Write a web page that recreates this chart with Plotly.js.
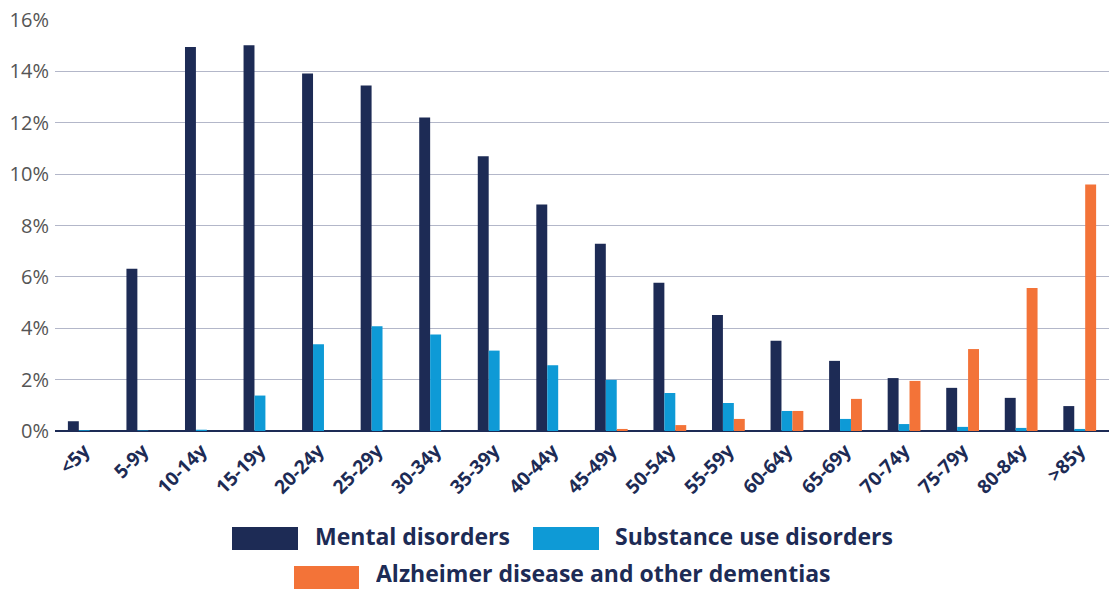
<!DOCTYPE html>
<html>
<head>
<meta charset="utf-8">
<script src="https://cdn.plot.ly/plotly-3.0.1.min.js"></script>
<style>html,body{margin:0;padding:0;background:#fff;}#chart{width:1109px;height:590px;}</style>
</head>
<body>
<div id="chart"></div>
<script>
const categories = ['<5y','5-9y','10-14y','15-19y','20-24y','25-29y','30-34y','35-39y','40-44y','45-49y','50-54y','55-59y','60-64y','65-69y','70-74y','75-79y','80-84y','>85y'];
const mental = [0.38,6.32,14.95,15.02,13.92,13.45,12.2,10.7,8.82,7.29,5.77,4.52,3.51,2.73,2.06,1.68,1.29,0.97];
const substance = [0.03,0.02,0.05,1.38,3.38,4.08,3.76,3.13,2.56,1.99,1.48,1.09,0.78,0.47,0.27,0.16,0.12,0.08];
const alzheimer = [0,0,0,0,0,0,0,0,0,0.08,0.23,0.47,0.78,1.25,1.95,3.19,5.57,9.6];
const seriesNames = ['Mental disorders','Substance use disorders','Alzheimer disease and other dementias'];
const seriesColors = ['#1d2b55','#0e9ad6','#f37338'];

const W = 1109, H = 590;
const L = 55, R = 0, T = 20, B = 159;
const pw = W - L - R, ph = H - T - B;
const px = p => (p - L) / pw;
const py = p => (H - B - p) / ph;

const traces = [mental, substance, alzheimer].map((vals, i) => ({
  type: 'bar',
  x: categories,
  y: vals,
  name: seriesNames[i],
  marker: {color: seriesColors[i]},
  hoverinfo: 'x+y+name'
}));

// custom legend: swatch pixel boxes and label anchors
const legendItems = [
  {sx0: 232, sx1: 298, sy0: 527, sy1: 550, tx: 313, ty: 536},
  {sx0: 533, sx1: 599, sy0: 527, sy1: 550, tx: 613, ty: 536},
  {sx0: 294, sx1: 359, sy0: 566, sy1: 589, tx: 374, ty: 573}
];
const shapes = legendItems.map((it, i) => ({
  type: 'rect', xref: 'paper', yref: 'paper',
  x0: px(it.sx0), x1: px(it.sx1), y0: py(it.sy1), y1: py(it.sy0),
  fillcolor: seriesColors[i], line: {width: 0}
}));
const annotations = legendItems.map((it, i) => ({
  xref: 'paper', yref: 'paper', x: px(it.tx), y: py(it.ty),
  xanchor: 'left', yanchor: 'middle', showarrow: false,
  height: 26, valign: 'middle',
  text: seriesNames[i],
  font: {family: 'Open Sans, sans-serif', size: 23, color: '#1d2b55', weight: 'bold'}
}));

const layout = {
  width: W, height: H,
  margin: {l: L, r: R, t: T, b: B},
  paper_bgcolor: '#ffffff', plot_bgcolor: '#ffffff',
  barmode: 'group',
  bargap: 0.44,
  bargroupgap: 0,
  showlegend: false,
  xaxis: {
    type: 'category',
    tickangle: -45,
    ticklabelstandoff: 4,
    tickfont: {family: 'Open Sans, sans-serif', size: 19, color: '#1d2b55', weight: 'bold'},
    showgrid: false, zeroline: false, showline: false, ticks: ''
  },
  yaxis: {
    range: [0, 16], dtick: 2, ticksuffix: '%',
    ticklabelstandoff: 5,
    tickfont: {family: 'Open Sans, sans-serif', size: 20, color: '#555555'},
    showgrid: true, gridcolor: '#b3b7c9', gridwidth: 1,
    zeroline: true, zerolinecolor: '#1d2b55', zerolinewidth: 2,
    showline: false, ticks: ''
  },
  shapes: shapes,
  annotations: annotations
};

Plotly.newPlot('chart', traces, layout, {displayModeBar: false, staticPlot: true});
</script>
</body>
</html>
